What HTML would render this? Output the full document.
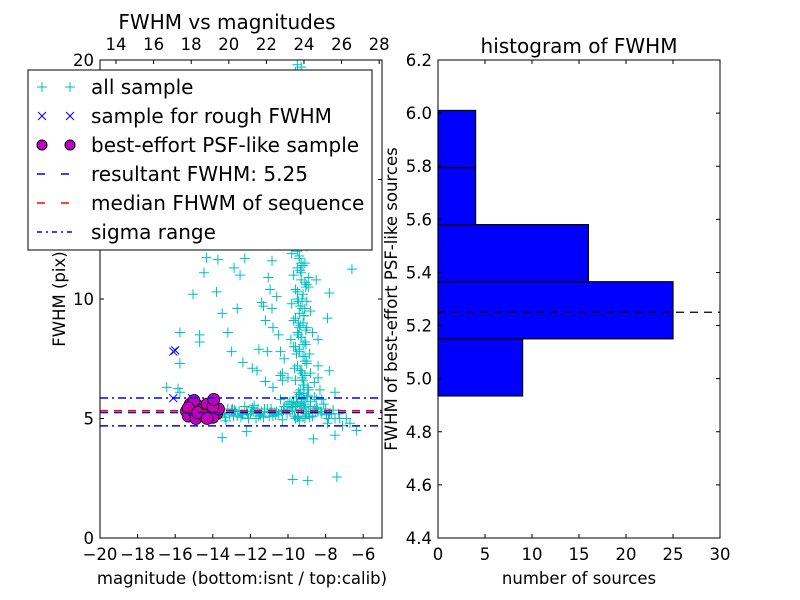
<!DOCTYPE html>
<html><head><meta charset="utf-8"><style>
html,body{margin:0;padding:0;background:#fff;}
svg{display:block;font-family:"DejaVu Sans","Liberation Sans",sans-serif;}
</style></head><body>
<svg id="fig" width="800" height="600" viewBox="0 0 800 600" xmlns="http://www.w3.org/2000/svg"></svg>
<script>
// ---- data ----
const allMag = [-14.33,-13.73,-14.47,-15.05,-13.8,-12.87,-12.55,-12.3,-13.5,-12.7,-13.2,-15.75,-14.7,-14.7,-13.0,-15.75,-12.4,-11.9,-11.65,-11.55,-11.1,-10.4,-11.3,-11.4,-11.2,-10.85,-10.8,-10.95,-11.05,-10.85,-10.6,-10.3,-10.3,-11.2,-10.8,-7.8,-6.6,-7.9,-8.4,-7.8,-8.4,-7.5,-7.25,-6.7,-6.35,-7.5,-8.65,-12.2,-13.5,-9.75,-8.95,-7.4,-16.45,-15.85,-15.75,
 -9.5,-9.3,-9.6,-9.2,-9.0,-9.4,-9.8,-9.1,-9.5,-9.7,-9.3,-9.0,-9.6,-9.2,-9.5,-9.8,-9.1,-9.4,-9.6,-9.2,-9.0,-9.5,-9.3,-9.1,-9.7,-9.4,-9.2,-9.0,-9.5,-9.3,-9.1,-9.6,-9.2,-8.9,-9.4,-9.0,-8.8,-9.3,-8.6,-8.4,-8.5,-10.2,-10.5,-10.4,-8.8,-8.7,-8.9,-8.5,-9.45,-9.15,-9.35,-9.05,-9.55,-9.25,-8.95,-9.65,-9.85,-10.0,
 -9.4,-9.2,-9.3,-9.1,-9.5,-9.25,-9.35,-9.15,-9.45,-9.05,-9.3,-9.2,-9.4,-9.1,-9.0,-9.35,-9.25,-9.15,-9.45,-9.55,-9.3,-9.2,-9.1,-9.4,-9.0,-8.9,-9.3,-9.5,-9.2,-9.35,-8.8,-9.6,-9.7,-9.05,-8.85,-9.15,-9.45,-9.25,-8.95,-9.35,
 -13.5,-13.2,-12.9,-12.6,-12.3,-12.0,-11.7,-11.4,-11.1,-10.8,-10.5,-10.2,-9.9,-9.6,-9.3,-9.0,-8.7,-8.4,-8.1,-7.8,-7.5,-13.3,-12.8,-12.1,-11.6,-11.0,-10.6,-10.0,-9.4,-8.8,-8.2,-7.7,-13.0,-12.4,-11.9,-11.3,-10.7,-10.1,-9.7,-9.1,-8.6,-8.0,-12.7,-12.2,-11.5,-10.9,-10.3,-9.8,-9.2,-8.5,-7.9,-7.3,-11.8,-10.4,-9.5,-8.3,-14.0,-13.8,-13.6,-7.6,-7.1,-6.9,
 -13.4,-13.1,-12.85,-12.5,-12.15,-11.85,-11.55,-11.25,-10.95,-10.65,-10.35,-10.05,-9.75,-9.45,-9.15,-8.85,-8.55,-8.25,-7.95,-13.35,-12.95,-12.45,-11.95,-11.45,-10.85,-10.25,-9.65,-9.05,-8.45,-7.85,-9.6,-9.1,-8.6,-9.9,-8.9,-9.3,-8.7,-9.5,-8.2,-9.8],
allFwhm = [11.73,11.65,11.1,10.2,10.3,11.3,11.0,11.7,9.4,9.6,8.6,8.6,8.5,8.2,7.8,7.3,7.35,7.1,7.0,7.9,7.8,7.8,9.7,9.85,9.1,9.6,8.8,10.4,10.9,11.6,10.1,6.9,6.6,6.55,6.3,10.25,11.25,9.2,8.3,7.0,6.7,6.1,5.0,4.8,4.5,4.3,4.15,4.45,4.2,2.45,2.4,2.55,6.3,6.25,6.1,
 19.8,19.7,19.5,12.5,12.2,11.8,11.9,11.5,11.3,11.0,10.8,10.6,10.4,10.2,10.0,9.8,9.6,9.4,9.2,9.0,8.8,8.6,8.4,8.2,8.0,7.8,7.6,7.4,7.2,7.0,6.8,6.6,6.4,6.2,6.0,5.9,5.7,5.6,6.5,7.2,5.8,7.5,8.5,6.8,9.5,8.6,10.5,10.8,9.9,9.3,8.9,8.1,7.7,6.9,6.3,7.1,8.3,6.7,
 11.7,11.4,11.1,10.7,10.3,10.0,9.7,9.3,9.0,8.7,8.4,8.1,7.9,7.6,7.3,7.0,6.7,6.4,6.1,5.9,5.8,6.6,7.4,8.8,9.9,10.9,11.5,12.0,5.7,6.2,6.9,8.0,9.1,10.5,7.7,6.05,8.5,9.6,5.95,11.2,
 5.2,5.4,5.1,5.3,5.5,5.2,5.0,5.3,5.4,5.1,5.2,5.5,5.3,5.0,5.4,5.2,5.1,5.3,5.6,5.2,5.0,4.9,5.3,5.0,5.4,5.1,5.3,5.6,4.9,5.5,5.8,5.2,5.35,5.15,5.45,5.05,5.25,5.5,5.7,5.0,5.9,5.4,5.1,5.3,5.2,5.4,4.95,5.6,5.1,5.4,4.8,5.2,5.55,5.8,5.05,6.2,5.3,5.45,5.15,5.35,4.7,5.0,
 5.25,5.15,5.35,5.05,5.2,5.3,5.1,5.4,5.25,5.15,5.3,5.2,5.35,5.1,5.45,5.05,5.25,5.3,5.15,5.05,5.4,5.2,5.3,5.15,5.25,5.35,5.1,5.2,5.45,5.0,5.5,5.6,5.4,5.7,5.3,5.55,5.1,5.65,5.2,5.45];
const roughMag = [-16.1,-16.0,-16.1,-15.1], roughFwhm = [7.8,7.85,5.85,5.85];
const bestMag = [-15.4,-15.1,-14.8,-14.5,-14.2,-13.9,-15.3,-15.0,-14.7,-14.4,-14.1,-13.8,-15.2,-14.9,-14.6,-14.3,-14.0,-13.7,-15.0,-14.5,-14.0,-13.95,-15.3,-14.8,-14.3],
 bestFwhm = [5.3,5.5,5.2,5.4,5.6,5.3,5.1,5.3,5.5,5.1,5.3,5.2,5.6,5.0,5.35,5.6,5.05,5.4,5.75,5.15,5.5,5.8,5.45,5.25,5.0];
const resultFwhm = 5.25, medianFwhm = 5.33, sigmaLo = 4.69, sigmaHi = 5.86;
const histEdges = [4.935,5.15,5.365,5.58,5.795,6.01];
const histCounts = [9,25,16,4,4];
const leftXTicks = [-20,-18,-16,-14,-12,-10,-8,-6], leftYTicks = [0,5,10,15,20];
const topTicks = [14,16,18,20,22,24,26,28], calibOffset = 33.15;
const rightXTicks = [0,5,10,15,20,25,30], rightYTicks = [4.4,4.6,4.8,5.0,5.2,5.4,5.6,5.8,6.0,6.2];

const NS="http://www.w3.org/2000/svg", svg=document.getElementById('fig');
function mk(t,a,p){const e=document.createElementNS(NS,t);for(const k in a)e.setAttribute(k,a[k]);(p||svg).appendChild(e);return e;}
function txt(s,x,y,a,p){const e=mk('text',Object.assign({x:x,y:y,'font-size':16.5,fill:'#000'},a||{}),p);e.textContent=s;return e;}

// left axes
const L={x0:100,x1:382,y0:538,y1:60};
const lx=v=>L.x0+(v+20)/15*(L.x1-L.x0), ly=v=>L.y0-v/20*(L.y0-L.y1);
const lg=mk('g',{});
mk('clipPath',{id:'cl'}).appendChild(document.createElementNS(NS,'rect'));
const cr=svg.querySelector('#cl rect');cr.setAttribute('x',L.x0);cr.setAttribute('y',L.y1);cr.setAttribute('width',L.x1-L.x0);cr.setAttribute('height',L.y0-L.y1);
const pg=mk('g',{'clip-path':'url(#cl)'},lg);
for(let i=0;i<allMag.length;i++){const x=lx(allMag[i]),y=ly(allFwhm[i]);
 const p=mk('path',{d:`M${x-5},${y}H${x+5}M${x},${y-5}V${y+5}`,stroke:'#00bfbf','stroke-width':1},pg);
 }
for(let i=0;i<roughMag.length;i++){const x=lx(roughMag[i]),y=ly(roughFwhm[i]);
 const p=mk('path',{d:`M${x-4},${y-4}L${x+4},${y+4}M${x-4},${y+4}L${x+4},${y-4}`,stroke:'#0000ff','stroke-width':1},pg);
 }
for(let i=0;i<bestMag.length;i++){const c=mk('circle',{cx:lx(bestMag[i]),cy:ly(bestFwhm[i]),r:6,fill:'#bf00bf',stroke:'#000','stroke-width':0.8},pg);
 }
function hl(v,col,dash,name){const l=mk('line',{x1:L.x0,x2:L.x1,y1:ly(v),y2:ly(v),stroke:col,'stroke-width':1.5,'stroke-dasharray':dash},pg);}
hl(sigmaHi,'#0000ff','8 4 2 4','sigma-upper-line');hl(sigmaLo,'#0000ff','8 4 2 4','sigma-lower-line');
hl(medianFwhm,'#ff0000','8 6','median-fwhm-line');hl(resultFwhm,'#0000ff','8 6','resultant-fwhm-line');
mk('rect',{x:L.x0,y:L.y1,width:L.x1-L.x0,height:L.y0-L.y1,fill:'none',stroke:'#000'},lg);
leftXTicks.forEach(v=>{const x=lx(v);mk('path',{d:`M${x},${L.y0}v-4`,stroke:'#000'},lg);
 txt((v<0?'\u2212':'')+Math.abs(v),x,L.y0+22,{'text-anchor':'middle'},lg);});
leftYTicks.forEach(v=>{const y=ly(v);mk('path',{d:`M${L.x0},${y}h4M${L.x1},${y}h-4`,stroke:'#000'},lg);
 txt(String(v),L.x0-6,y+6,{'text-anchor':'end'},lg);});
topTicks.forEach(v=>{const x=lx(v-calibOffset);mk('path',{d:`M${x},${L.y1}v4`,stroke:'#000'},lg);
 txt(String(v),x,L.y1-10,{'text-anchor':'middle'},lg);});
txt('FWHM vs magnitudes',227,29,{'text-anchor':'middle','font-size':20},lg);
txt('magnitude (bottom:isnt / top:calib)',242,584,{'text-anchor':'middle'},lg);
txt('FWHM (pix)',65,299,{'text-anchor':'middle',transform:'rotate(-90 65 299)'},lg);

// legend
const lgd=mk('g',{});
mk('rect',{x:28,y:70,width:344,height:180,fill:'#fff',stroke:'#000'},lgd);
const items=[['all sample','plus'],['sample for rough FWHM','x'],['best-effort PSF-like sample','o'],['resultant FWHM: 5.25','bd'],['median FHWM of sequence','rd'],['sigma range','dd']];
items.forEach((it,i)=>{const y=87+i*29;const e=mk('g',{},lgd);
 [42,70].forEach(x=>{if(it[1]=='plus')mk('path',{d:`M${x-5},${y}H${x+5}M${x},${y-5}V${y+5}`,stroke:'#00bfbf'},e);
  else if(it[1]=='x')mk('path',{d:`M${x-4},${y-4}L${x+4},${y+4}M${x-4},${y+4}L${x+4},${y-4}`,stroke:'#0000ff'},e);
  else if(it[1]=='o')mk('circle',{cx:x,cy:y,r:5,fill:'#bf00bf',stroke:'#000'},e);});
 if(it[1]=='bd')mk('line',{x1:37,x2:75,y1:y,y2:y,stroke:'#0000ff','stroke-width':1.5,'stroke-dasharray':'8 16'},e);
 if(it[1]=='rd')mk('line',{x1:37,x2:75,y1:y,y2:y,stroke:'#ff0000','stroke-width':1.5,'stroke-dasharray':'8 16'},e);
 if(it[1]=='dd')mk('line',{x1:37,x2:75,y1:y,y2:y,stroke:'#0000ff','stroke-width':1.5,'stroke-dasharray':'5 4 2 4'},e);
 txt(it[0],91,y+7,{'font-size':20},e);});

// right axes
const R={x0:438,x1:720,y0:538,y1:60};
const rx=v=>R.x0+v/30*(R.x1-R.x0), ry=v=>R.y0-(v-4.4)/1.8*(R.y0-R.y1);
const rg=mk('g',{});
histCounts.forEach((c,i)=>{const b=mk('rect',{x:rx(0),y:ry(histEdges[i+1]),width:rx(c)-rx(0),height:ry(histEdges[i])-ry(histEdges[i+1]),fill:'#0000ff',stroke:'#000','stroke-width':1.2},rg);
 });
const ml=mk('line',{x1:R.x0,x2:R.x1,y1:ry(resultFwhm),y2:ry(resultFwhm),stroke:'#000','stroke-width':1.3,'stroke-dasharray':'8 6'},rg);

mk('rect',{x:R.x0,y:R.y1,width:R.x1-R.x0,height:R.y0-R.y1,fill:'none',stroke:'#000'},rg);
rightXTicks.forEach(v=>{const x=rx(v);mk('path',{d:`M${x},${R.y0}v-4M${x},${R.y1}v4`,stroke:'#000'},rg);
 txt(String(v),x,R.y0+22,{'text-anchor':'middle'},rg);});
rightYTicks.forEach(v=>{const y=ry(v);mk('path',{d:`M${R.x0},${y}h4M${R.x1},${y}h-4`,stroke:'#000'},rg);
 txt(v.toFixed(1),R.x0-6,y+6,{'text-anchor':'end'},rg);});
txt('histogram of FWHM',579,53,{'text-anchor':'middle','font-size':20},rg);
txt('number of sources',579,584,{'text-anchor':'middle'},rg);
txt('FWHM of best-effort PSF-like sources',397,299,{'text-anchor':'middle',transform:'rotate(-90 397 299)'},rg);
</script>
</body></html>
